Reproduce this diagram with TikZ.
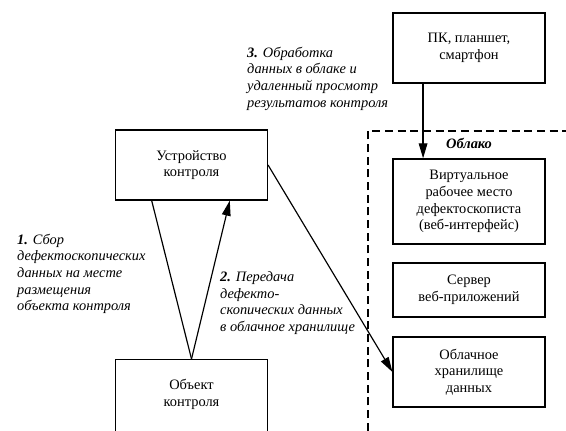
\documentclass[tikz,border=0pt]{standalone}
\usepackage{fontspec}
\setmainfont{Liberation Serif}
\newfontfamily\diagfont{Liberation Serif}
\usepackage{tikz}
\usetikzlibrary{arrows.meta, positioning, calc}

\begin{document}
\begin{tikzpicture}[
    every node/.style={font=\diagfont\fontsize{12.3}{14.2}\selectfont},
    block/.style={
        rectangle, draw=black, line width=1.2pt, fill=white,
        minimum width=4.55cm, align=center, inner sep=2pt,
    },
    steplabel/.style={
        font=\diagfont\fontsize{12.3}{14.2}\selectfont\itshape,
        align=left, anchor=west, inner sep=0pt,
    },
    cloudtitle/.style={
        font=\diagfont\fontsize{12.3}{14.2}\selectfont\bfseries\itshape, inner sep=0pt,
    },
    link/.style={line width=1pt},
    arrowlink/.style={link, -{Triangle[length=0.45cm, width=0.26cm]}},
    cloudline/.style={line width=1.2pt, dash pattern=on 0.24cm off 0.14cm},
]

\useasboundingbox (0,0) rectangle (16.98,-12.9);

\def\colL{5.745}
\def\colR{14.07}

% ── Cloud boundary ────────────────────────────────────────────────────
\coordinate (cloudcorner) at (11.04,-3.93);
\coordinate (cloudbottom) at (11.04,-13.3);
\coordinate (cloudright)  at (17.3,-3.93);
\draw[cloudline] (cloudbottom) -- (cloudcorner) -- (cloudright);
\node[cloudtitle] (cloudname) at (\colR,-4.29) {Облако};

% ── Blocks ────────────────────────────────────────────────────────────
\node[block, minimum height=2.1cm]  (pc)      at (\colR,-1.44)  {ПК, планшет,\\смартфон};
\node[block, minimum height=2.1cm]  (device)  at (\colL,-4.95)  {Устройство\\контроля};
\node[block, minimum height=2.7cm, anchor=north, text depth=0.7cm]
                                    (object)  at (\colL,-10.77) {Объект\\контроля};
\node[block, minimum height=2.55cm] (virt)    at (\colR,-6.045) {Виртуальное\\рабочее место\\дефектоскописта\\(веб-интерфейс)};
\node[block, minimum height=1.62cm] (server)  at (\colR,-8.7)   {Сервер\\веб-приложений};
\node[block, minimum height=2.1cm]  (storage) at (\colR,-11.16) {Облачное\\хранилище\\данных};

% ── Connectors ────────────────────────────────────────────────────────
\draw[link] ($(device.south west)!0.24!(device.south east)$) -- (object.north);
\draw[arrowlink] (object.north) -- ($(device.south west)!0.75!(device.south east)$);
\draw[arrowlink] (device.east) -- (storage.west);
\draw[arrowlink] ($(pc.south west)!0.2!(pc.south east)$) -- ($(virt.north west)!0.2!(virt.north east)$);

% ── Step labels ───────────────────────────────────────────────────────
\node[steplabel] (step1) at (0.51,-8.22)  {\textbf{1.} Сбор\\дефектоскопических\\данных на месте\\размещения\\объекта контроля};
\node[steplabel] (step2) at (6.6,-9.09)   {\textbf{2.} Передача\\дефекто-\\скопических данных\\в облачное хранилище};
\node[steplabel] (step3) at (7.41,-2.355) {\textbf{3.} Обработка\\данных в облаке и\\удаленный просмотр\\результатов контроля};

\end{tikzpicture}
\end{document}
